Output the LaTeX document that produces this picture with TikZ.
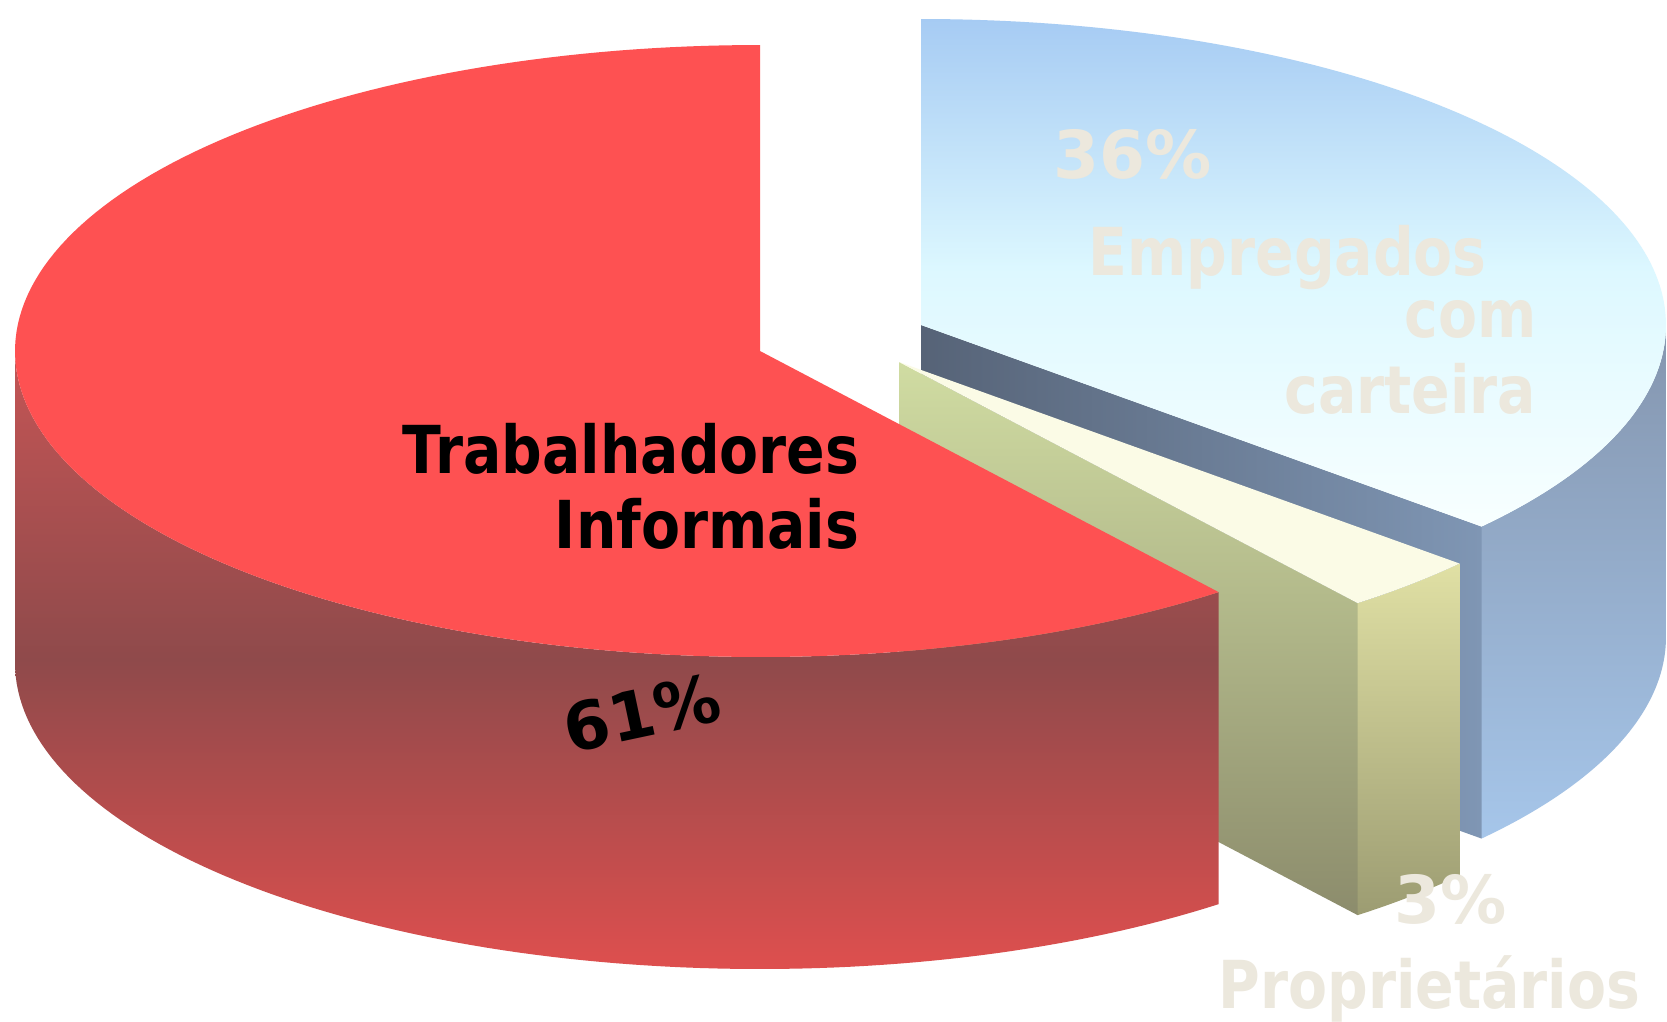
\documentclass[tikz,border=0pt]{standalone}
\usepackage{fontspec}
\newfontfamily\lab{DejaVu Sans Bold}[FakeStretch=0.86]
\newfontfamily\labw{DejaVu Sans Bold}
\definecolor{redtop}{HTML}{FE5152}
\definecolor{redsideA}{HTML}{C45555}
\definecolor{redsideB}{HTML}{8F4A4B}
\definecolor{redsideC}{HTML}{DE4F4E}
\definecolor{bluetopA}{HTML}{A6CBF3}
\definecolor{bluetopB}{HTML}{DDF8FF}
\definecolor{bluetopC}{HTML}{F8FFFF}
\definecolor{bluesideA}{HTML}{8495AE}
\definecolor{bluesideB}{HTML}{A6C6EA}
\definecolor{slateA}{HTML}{566377}
\definecolor{slateB}{HTML}{7F96B4}
\definecolor{ycutA}{HTML}{D0DCA2}
\definecolor{ycutB}{HTML}{8C8C6C}
\definecolor{youtA}{HTML}{E0E0A4}
\definecolor{youtB}{HTML}{9C9C72}
\definecolor{ytop}{HTML}{FBFBE6}
\definecolor{paletext}{HTML}{ECE8DD}
\begin{document}
\begin{tikzpicture}[x=0.01cm,y=-0.01cm,
  lbl/.style={font=\lab\fontsize{18.8}{22}\selectfont, inner sep=0pt},
  pct/.style={font=\labw\fontsize{18.8}{22}\selectfont, inner sep=0pt},
  ptxt/.style={lbl, text=paletext},
  dtxt/.style={lbl, text=black}]
\useasboundingbox (0,0) rectangle (1667,1021);
\fill[white] (0,0) rectangle (1667,1021);

% ---------- Blue slice (36%), centre (921,325) ----------
% outer side
\shade[top color=bluesideA, bottom color=bluesideB]
  plot[domain=0:41.2,samples=60] ({921+745*cos(\x)},{325+306*sin(\x)})
  -- plot[domain=41.2:0,samples=60] ({921+745*cos(\x)},{637+306*sin(\x)}) -- cycle;
% cut face
\shade[left color=slateA, right color=slateB]
  (921,325) -- ({921+745*cos(41.2)},{325+306*sin(41.2)})
  -- ({921+745*cos(41.2)},{637+306*sin(41.2)}) -- (921,637) -- cycle;
% top
\shade[top color=bluetopA, bottom color=bluetopC, middle color=bluetopB]
  (921,325) -- plot[domain=-90:41.2,samples=120] ({921+745*cos(\x)},{325+306*sin(\x)}) -- cycle;

% ---------- Yellow slice (3%), centre (899,362) ----------
% cut face
\shade[top color=ycutA, bottom color=ycutB]
  (899,362) -- ({899+745*cos(52)},{362+306*sin(52)})
  -- ({899+745*cos(52)},{674+306*sin(52)}) -- (899,674) -- cycle;
% outer side
\shade[top color=youtA, bottom color=youtB]
  plot[domain=41.2:52,samples=20] ({899+745*cos(\x)},{362+306*sin(\x)})
  -- plot[domain=52:41.2,samples=20] ({899+745*cos(\x)},{674+306*sin(\x)}) -- cycle;
% top
\fill[ytop]
  (899,362) -- plot[domain=41.2:52,samples=20] ({899+745*cos(\x)},{362+306*sin(\x)}) -- cycle;

% ---------- Red slice (61%), centre (760,351) ----------
% outer side
\shade[top color=redsideA, bottom color=redsideC, middle color=redsideB]
  plot[domain=52:180,samples=100] ({760+745*cos(\x)},{351+306*sin(\x)})
  -- plot[domain=180:52,samples=100] ({760+745*cos(\x)},{663+306*sin(\x)}) -- cycle;
% top
\fill[redtop]
  (760,351) -- plot[domain=52:270,samples=160] ({760+745*cos(\x)},{351+306*sin(\x)}) -- cycle;

% ---------- Labels ----------
\node[dtxt, anchor=base east] (trab) at (860,473) {Trabalhadores};
\node[dtxt, anchor=base east] (info) at (860,548) {Informais};
\node[pct, text=black, rotate=12] (p61) at (642,713) {61\%};

\node[pct, text=paletext, anchor=base west] (p36) at (1053,178) {36\%};
\node[ptxt, anchor=base west] (emp) at (1088,275) {Empregados};
\node[ptxt, anchor=base east] (com) at (1537,337) {com};
\node[ptxt, anchor=base east] (cart) at (1537,413) {carteira};

\node[pct, text=paletext, anchor=base east] (p3) at (1507,923) {3\%};
\node[ptxt, anchor=base west] (prop) at (1218,1008) {Proprietários};
\end{tikzpicture}
\end{document}
